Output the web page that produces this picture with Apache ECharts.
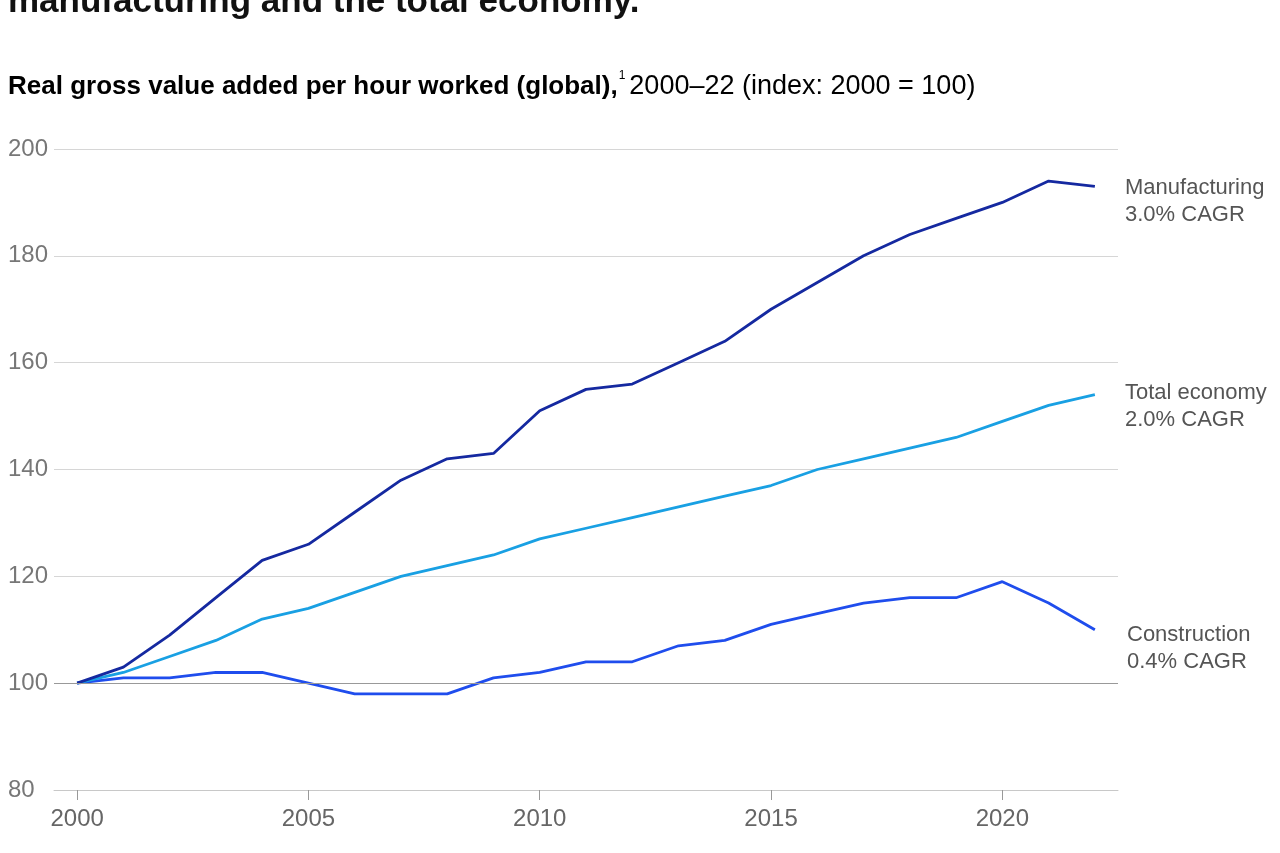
<!DOCTYPE html>
<html><head><meta charset="utf-8">
<script src="https://cdn.jsdelivr.net/npm/echarts@6/dist/echarts.min.js"></script>
<style>html,body{margin:0;padding:0;background:#fff}#c{width:1280px;height:853px}</style>
</head><body><div id="c"></div>
<script>
const years = ['2000','2001','2002','2003','2004','2005','2006','2007','2008','2009','2010','2011','2012','2013','2014','2015','2016','2017','2018','2019','2020','2021','2022'];
const manufacturing = [100,103,109,116,123,126,132,138,142,143,151,155,156,160,164,170,175,180,184,187,190,194,193];
const totalEconomy = [100,102,105,108,112,114,117,120,122,124,127,129,131,133,135,137,140,142,144,146,149,152,154];
const construction = [100,101,101,102,102,100,98,98,98,101,102,104,104,107,108,111,113,115,116,116,119,115,110];
const yTicks = [80,100,120,140,160,180,200];

const FONT = '"Liberation Sans", Arial, sans-serif';
const chart = echarts.init(document.getElementById('c'));
const lineStyle = (c) => ({ color: c, width: 2.8 });
chart.setOption({
  animation: false,
  textStyle: { fontFamily: FONT },
  grid: { left: 54, right: 162, top: 149, bottom: 63, containLabel: false },
  xAxis: {
    type: 'category', data: years, boundaryGap: true,
    axisLine: { lineStyle: { color: '#c8c8c8', width: 1 } },
    axisTick: { show: true, interval: 4, alignWithLabel: true, length: 10, lineStyle: { color: '#999' } },
    axisLabel: { interval: 4, color: '#666', fontSize: 24, margin: 17, fontFamily: FONT }
  },
  yAxis: {
    type: 'value', min: yTicks[0], max: yTicks[yTicks.length - 1], interval: 20,
    axisLine: { show: false }, axisTick: { show: false },
    splitLine: { lineStyle: { color: '#d6d6d6', width: 1 } },
    axisLabel: { color: '#777', fontSize: 24, align: 'left', margin: 46, fontFamily: FONT }
  },
  series: [
    { name: 'Construction', type: 'line', data: construction, symbol: 'none', lineStyle: lineStyle('#1f4ded'), itemStyle: { color: '#1f4ded' },
      markLine: { silent: true, symbol: 'none', label: { show: false }, lineStyle: { color: '#999', width: 1, type: 'solid' }, data: [{ yAxis: 100 }] } },
    { name: 'Total economy', type: 'line', data: totalEconomy, symbol: 'none', lineStyle: lineStyle('#19a0e3'), itemStyle: { color: '#19a0e3' } },
    { name: 'Manufacturing', type: 'line', data: manufacturing, symbol: 'none', lineStyle: lineStyle('#1529a0'), itemStyle: { color: '#1529a0' } }
  ],
  graphic: [
    { type: 'text', left: 8, top: -15, style: { text: 'manufacturing and the total economy.', font: 'bold 35px ' + FONT, fill: '#111' } },
    { type: 'text', left: 8, top: 70, style: {
        text: '{b|Real gross value added per hour worked (global),}{s|1}{r|2000–22 (index: 2000 = 100)}',
        rich: {
          b: { fontFamily: FONT, fontWeight: 'bold', fontSize: 26, color: '#111', verticalAlign: 'bottom', lineHeight: 30 },
          s: { fontFamily: FONT, fontSize: 12, color: '#111', verticalAlign: 'top', lineHeight: 30, padding: [0, 4, 14, 1] },
          r: { fontFamily: FONT, fontSize: 27, color: '#111', verticalAlign: 'bottom', lineHeight: 30 }
        } } },
    { type: 'text', left: 1125, top: 174, style: { text: 'Manufacturing\n3.0% CAGR', font: '22px ' + FONT, fill: '#555', lineHeight: 27 } },
    { type: 'text', left: 1125, top: 379, style: { text: 'Total economy\n2.0% CAGR', font: '22px ' + FONT, fill: '#555', lineHeight: 27 } },
    { type: 'text', left: 1127, top: 621, style: { text: 'Construction\n0.4% CAGR', font: '22px ' + FONT, fill: '#555', lineHeight: 27 } }
  ]
});
</script></body></html>
